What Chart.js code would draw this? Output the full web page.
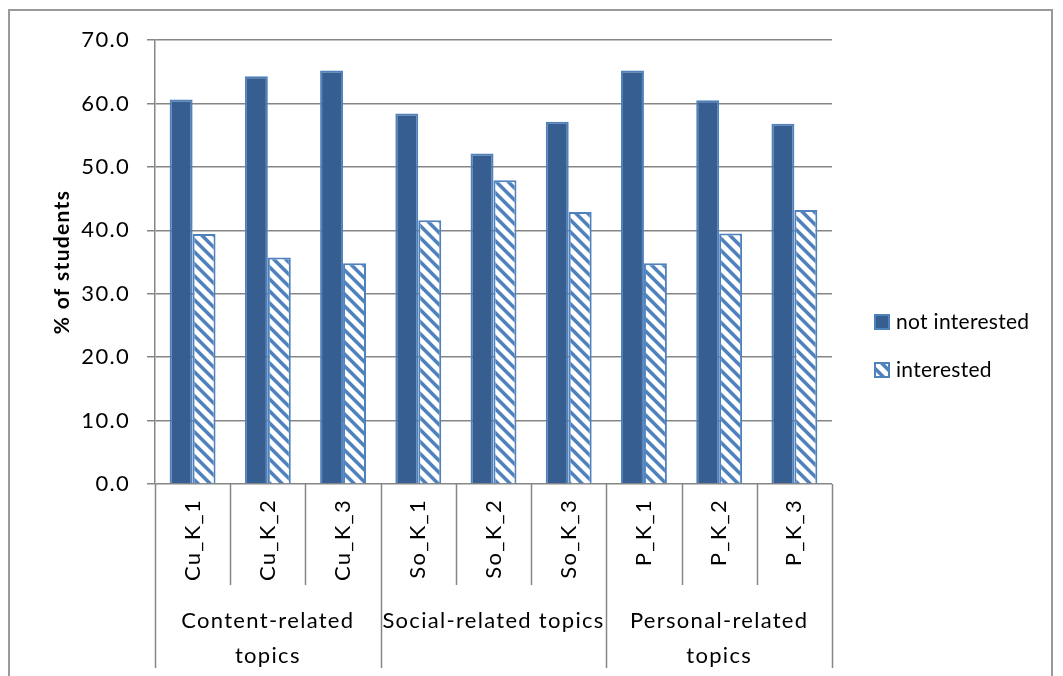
<!DOCTYPE html>
<html>
<head>
<meta charset="utf-8">
<script src="https://cdn.jsdelivr.net/npm/chart.js@4/dist/chart.umd.min.js"></script>
<style>
  html, body { margin: 0; padding: 0; background: #fff; overflow: hidden; }
  #frame { position: absolute; left: 8px; top: 9px; width: 1045px; height: 720px; border: 2px solid #9a9a9a; box-sizing: border-box; }
  #chart { position: absolute; left: 0; top: 0; }
</style>
</head>
<body>
<div id="frame"></div>
<canvas id="chart" width="1063" height="676"></canvas>
<script>
const labels = ['Cu_K_1', 'Cu_K_2', 'Cu_K_3', 'So_K_1', 'So_K_2', 'So_K_3', 'P_K_1', 'P_K_2', 'P_K_3'];
const groupNames = [['Content-related', 'topics'], ['Social-related topics'], ['Personal-related', 'topics']];
const groupSizes = [3, 3, 3];
const notInterested = [60.6, 64.3, 65.2, 58.4, 52.1, 57.1, 65.2, 60.5, 56.8];
const interested = [39.4, 35.7, 34.8, 41.6, 47.9, 42.9, 34.8, 39.5, 43.2];

const FONT = 'Lato, "Open Sans", sans-serif';
const LINE = '#868686';
const BLUE = '#4F81BD';

// wide downward diagonal hatch, like the excel pattern fill
function makeHatch() {
  const c = document.createElement('canvas');
  c.width = 12; c.height = 12;
  const g = c.getContext('2d');
  g.fillStyle = '#fff';
  g.fillRect(0, 0, 12, 12);
  g.fillStyle = BLUE;
  g.beginPath();
  g.moveTo(0, 0); g.lineTo(5, 0); g.lineTo(12, 7); g.lineTo(12, 12);
  g.closePath();
  g.fill();
  g.beginPath();
  g.moveTo(0, 7); g.lineTo(5, 12); g.lineTo(0, 12);
  g.closePath();
  g.fill();
  return g.createPattern(c, 'repeat');
}
const hatch = makeHatch();

// category ticks, group labels, separators and legend drawn off the x scale
const axisExtras = {
  id: 'axisExtras',
  beforeDraw(chart) {
    chart.ctx.letterSpacing = '1.3px';  // the original text is spaced out a bit
  },
  afterDraw(chart) {
    const ctx = chart.ctx;
    const x = chart.scales.x;
    const area = chart.chartArea;
    const step = x.getPixelForValue(1) - x.getPixelForValue(0);
    const edge = i => x.getPixelForValue(i) - step / 2;
    ctx.save();
    ctx.letterSpacing = '1.3px';

    // separators
    ctx.strokeStyle = LINE;
    ctx.lineWidth = 1.5;
    const groupEdges = [0];
    groupSizes.reduce((a, n) => { groupEdges.push(a + n); return a + n; }, 0);
    for (let i = 0; i <= labels.length; i++) {
      const px = Math.round(edge(i)) + 0.5;
      const long = groupEdges.includes(i);
      ctx.beginPath();
      ctx.moveTo(px, area.bottom);
      ctx.lineTo(px, long ? area.bottom + 184 : area.bottom + 101);
      ctx.stroke();
    }

    // rotated category labels
    ctx.fillStyle = '#000';
    ctx.font = '22px ' + FONT;
    ctx.textAlign = 'right';
    ctx.textBaseline = 'middle';
    labels.forEach((lab, i) => {
      ctx.save();
      ctx.translate(x.getPixelForValue(i), area.bottom + 15);
      ctx.rotate(-Math.PI / 2);
      ctx.fillText(lab, 0, 0);
      ctx.restore();
    });

    // group labels
    ctx.textAlign = 'center';
    let start = 0;
    groupNames.forEach((lines, g) => {
      const cx = (edge(start) + edge(start + groupSizes[g])) / 2;
      lines.forEach((t, k) => ctx.fillText(t, cx, area.bottom + 137 + k * 35));
      start += groupSizes[g];
    });

    // legend
    ctx.textAlign = 'left';
    ctx.letterSpacing = '0.3px';
    ctx.font = '21px ' + FONT;
    chart.data.datasets.forEach((ds, k) => {
      const cy = 322 + k * 48;
      ctx.fillStyle = ds.backgroundColor;
      ctx.fillRect(874, cy - 8, 16, 16);
      ctx.strokeStyle = ds.borderColor;
      ctx.lineWidth = 2;
      ctx.strokeRect(875, cy - 7, 14, 14);
      ctx.fillStyle = '#000';
      ctx.fillText(ds.label, 896, cy);
    });
    ctx.restore();
  }
};

new Chart(document.getElementById('chart'), {
  type: 'bar',
  data: {
    labels: labels,
    datasets: [
      { label: 'not interested', data: notInterested, backgroundColor: '#365E91', borderColor: BLUE, borderWidth: 2 },
      { label: 'interested', data: interested, backgroundColor: hatch, borderColor: BLUE, borderWidth: 2 }
    ]
  },
  options: {
    responsive: false,
    animation: false,
    devicePixelRatio: 1,
    categoryPercentage: 0.61,
    barPercentage: 1.0,
    layout: { padding: { top: 40, right: 231, left: 0, bottom: 0 } },
    plugins: { legend: { display: false }, tooltip: { enabled: false } },
    scales: {
      x: {
        offset: true,
        grid: { display: false },
        border: { display: false },
        ticks: { display: false },
        afterFit(s) { s.height = 192; }
      },
      y: {
        min: 0,
        max: 70,
        ticks: {
          stepSize: 10,
          color: '#000',
          padding: 17,
          font: { family: FONT, size: 22 },
          callback: v => v.toFixed(1)
        },
        grid: { color: LINE, lineWidth: 1.5, tickLength: 8 },
        border: { color: LINE, width: 1.5 },
        title: {
          display: true,
          text: '% of students',
          color: '#000',
          font: { family: FONT, size: 21, weight: 'bold' },
          padding: { top: 50, bottom: 0 }
        },
        afterFit(s) { s.width = 155; }
      }
    }
  },
  plugins: [axisExtras]
});
</script>
</body>
</html>
